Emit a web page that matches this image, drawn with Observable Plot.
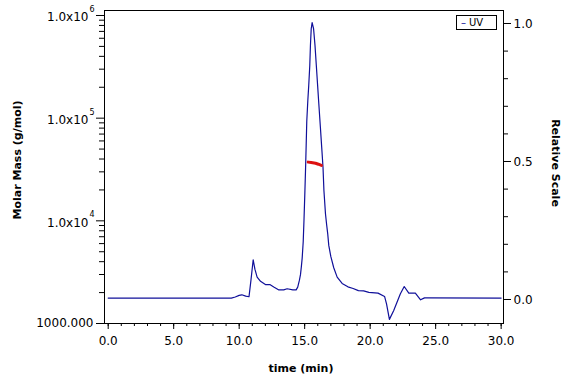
<!DOCTYPE html>
<html>
<head>
<meta charset="utf-8">
<script src="https://cdn.jsdelivr.net/npm/d3@7"></script>
<script src="https://cdn.jsdelivr.net/npm/@observablehq/plot@0.6"></script>
<style>
  html, body { margin: 0; padding: 0; background: #fff; }
  #wrap { position: relative; width: 576px; height: 384px; }
  #legend { position: absolute; left: 456px; top: 15px; width: 39px; height: 13px;
    border: 1px solid #000; background: #fff; font: 10px "DejaVu Sans", sans-serif;
    line-height: 13px; box-sizing: content-box; }
  #legend .dash { color: #10109a; margin-left: 4px; }
  #legend .lab { margin-left: 3px; color: #000; }
  .title { position: absolute; font: bold 11px "DejaVu Sans", sans-serif; white-space: nowrap;
    color: #000; line-height: 1; }
</style>
</head>
<body>
<div id="wrap"></div>
<script>
// UV trace (relative scale)
const uvTime = [0, 9.4, 9.7, 10.0, 10.2, 10.5, 10.75, 10.9, 11.07, 11.2, 11.37, 11.63, 12.0, 12.34, 12.64, 13.0, 13.4, 13.66, 14.1, 14.35, 14.47, 14.6, 14.68, 14.75, 14.81, 14.89, 14.95, 15.01, 15.06, 15.11, 15.16, 15.24, 15.31, 15.39, 15.44, 15.5, 15.57, 15.68, 15.79, 15.89, 15.99, 16.08, 16.2, 16.3, 16.4, 16.47, 16.59, 16.68, 16.76, 16.84, 17.0, 17.22, 17.48, 17.86, 18.3, 18.7, 19.1, 19.5, 19.9, 20.6, 21.1, 21.25, 21.47, 21.8, 22.3, 22.6, 22.95, 23.45, 23.85, 24.15, 24.4, 30];
const uvValue = [0.005, 0.005, 0.009, 0.015, 0.017, 0.012, 0.01, 0.07, 0.144, 0.11, 0.081, 0.066, 0.054, 0.054, 0.045, 0.035, 0.035, 0.039, 0.035, 0.035, 0.045, 0.07, 0.09, 0.12, 0.15, 0.21, 0.29, 0.38, 0.46, 0.55, 0.645, 0.72, 0.775, 0.848, 0.92, 0.981, 1.003, 0.981, 0.92, 0.848, 0.775, 0.709, 0.624, 0.552, 0.479, 0.395, 0.31, 0.27, 0.238, 0.196, 0.155, 0.115, 0.081, 0.058, 0.046, 0.04, 0.032, 0.031, 0.026, 0.023, 0.011, -0.016, -0.072, -0.04, 0.02, 0.047, 0.023, 0.023, -0.001, 0.006, 0.006, 0.005];
// Molar mass points (g/mol)
const mmTime = [15.27, 15.5, 15.83, 16.05, 16.28];
const mmValue = [37300, 37000, 36400, 35600, 34700];

// Axis ticks
const xMajor = [0, 5, 10, 15, 20, 25, 30];
const xMinor = d3.range(0, 31, 1);
const leftMajor = [1000, 10000, 100000, 1000000];
const leftMinor = [2,3,4,5,6,7,8,9].flatMap(k => [1e3, 1e4, 1e5].map(b => k * b));
const rightMajor = [0, 0.5, 1.0];
const rightMinor = [0.1, 0.2, 0.3, 0.4, 0.6, 0.7, 0.8, 0.9];

// scale domains
const xDomain = [-0.282, 30.18];
const mmDomainLog = [3, 6.0486];
const relDomain = [-0.08696, 1.0471];
const relToMass = r => Math.pow(10, mmDomainLog[0] + (r - relDomain[0]) / (relDomain[1] - relDomain[0]) * (mmDomainLog[1] - mmDomainLog[0]));

const uv = uvTime.map((t, i) => ({t, v: uvValue[i]}));
const mm = mmTime.map((t, i) => ({t, m: mmValue[i]}));

const font = "DejaVu Sans, sans-serif";

const chart = Plot.plot({
  width: 576, height: 384,
  marginLeft: 104, marginRight: 73, marginTop: 10, marginBottom: 61,
  x: {domain: xDomain, axis: null},
  y: {type: "log", domain: mmDomainLog.map(e => Math.pow(10, e)), axis: null},
  style: {fontFamily: font, fontSize: "12px", color: "#000", background: "#fff", overflow: "visible"},
  marks: [
    Plot.frame({stroke: "#000"}),
    Plot.axisX({ticks: xMajor, tickSize: 6, tickPadding: 7, tickFormat: d => d.toFixed(1), label: null, fontSize: 12}),
    Plot.axisX({ticks: xMinor, tickSize: 3, tickFormat: () => "", label: null}),
    Plot.axisY({ticks: leftMajor, anchor: "left", tickSize: 8, tickFormat: () => "", label: null}),
    Plot.axisY({ticks: leftMinor, anchor: "left", tickSize: 5, tickFormat: () => "", label: null}),
    Plot.text(leftMajor.slice(1), {y: d => d, text: () => "1.0x10", frameAnchor: "left", textAnchor: "end", dx: -16, dy: 2, fontSize: 12}),
    Plot.text(leftMajor.slice(1), {y: d => d, text: d => String(Math.round(Math.log10(d))), frameAnchor: "left", textAnchor: "start", dx: -15, dy: -6, fontSize: 8}),
    Plot.text(leftMajor.slice(0, 1), {y: d => d, text: d => d.toFixed(3), frameAnchor: "left", textAnchor: "end", dx: -11, dy: 0, fontSize: 12}),
    Plot.axisY({ticks: rightMajor.map(relToMass), anchor: "right", tickSize: 7, tickFormat: () => "", label: null}),
    Plot.axisY({ticks: rightMinor.map(relToMass), anchor: "right", tickSize: 4, tickFormat: () => "", label: null}),
    Plot.text(rightMajor, {y: d => relToMass(d), text: d => d.toFixed(1), frameAnchor: "right", textAnchor: "start", dx: 10, dy: 1, fontSize: 12}),
    Plot.line(uv, {x: "t", y: d => relToMass(d.v), stroke: "#10109a", strokeWidth: 1.2}),
    Plot.line(mm, {x: "t", y: "m", stroke: "#dd1111", strokeWidth: 3})
  ]
});

const wrap = document.getElementById("wrap");
wrap.appendChild(chart);

function addTitle(text, cx, cy, rot) {
  const el = document.createElement("div");
  el.className = "title";
  el.textContent = text;
  el.style.left = cx + "px";
  el.style.top = cy + "px";
  el.style.transform = `translate(-50%, -50%) rotate(${rot}deg)`;
  wrap.appendChild(el);
}
addTitle("time (min)", 301, 368, 0);
addTitle("Molar Mass (g/mol)", 17, 160, -90);
addTitle("Relative Scale", 555, 163, 90);

const legend = document.createElement("div");
legend.id = "legend";
legend.innerHTML = '<span class="dash">\u2013</span><span class="lab">UV</span>';
wrap.appendChild(legend);
</script>
</body>
</html>
